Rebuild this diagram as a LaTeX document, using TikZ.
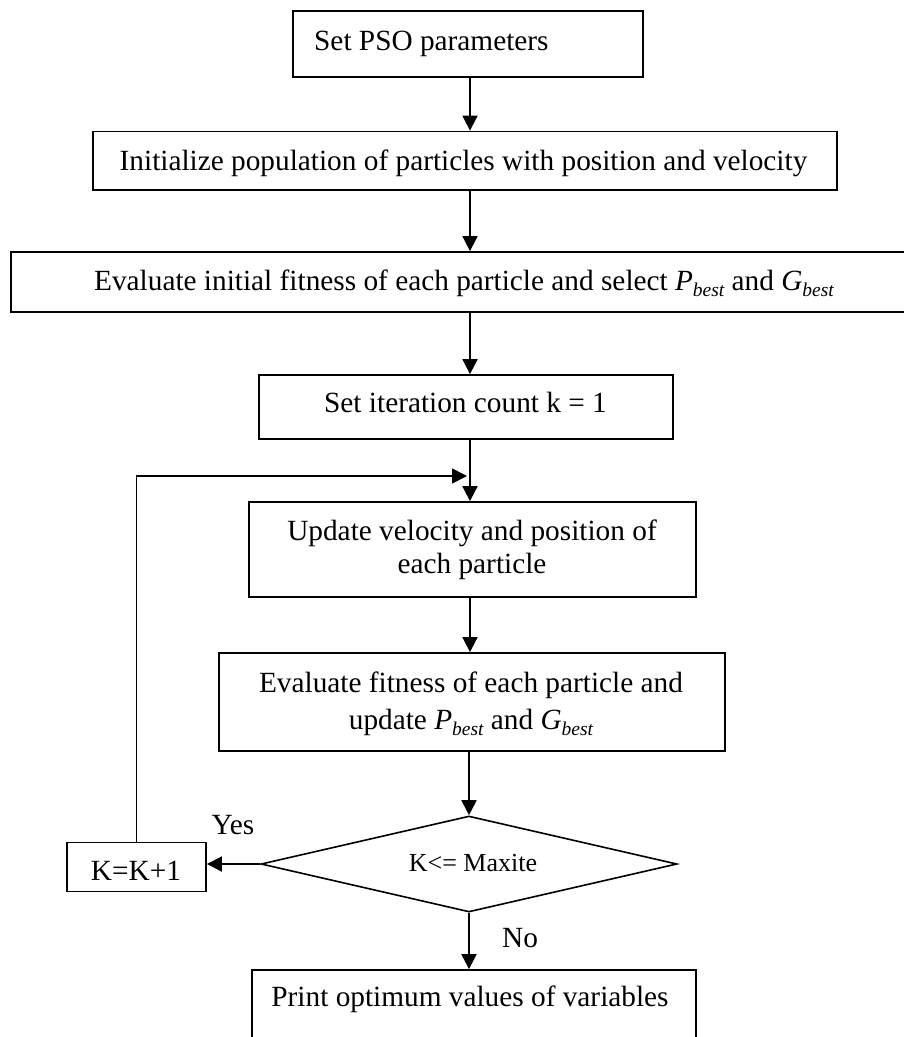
\documentclass[tikz,border=0pt]{standalone}
\usepackage{fontspec}
\setmainfont{Liberation Serif}
\usetikzlibrary{arrows.meta,shapes.geometric}
\newcommand{\sbest}{\raisebox{-0.22em}{\fontsize{19.5}{20}\selectfont\itshape best}}
\begin{document}
\begin{tikzpicture}[x=1pt,y=-1pt,
  box/.style={draw, line width=1.8pt, rectangle, inner sep=0pt},
  txt/.style={font=\fontsize{29.3}{33.7}\selectfont, inner sep=0pt, anchor=base},
  arr/.style={line width=1.8pt, -{Triangle[length=15pt,width=15pt]}},
]
\useasboundingbox (0,0) rectangle (904,1037);
\fill[white] (0,0) rectangle (904,1037);
\coordinate (ax) at (470,0);
% boxes
\node[box, minimum width=350pt, minimum height=66pt] (b1) at (468,44) {};
\node[box, minimum width=744pt, minimum height=58.5pt] (b2) at (465,160.75) {};
\node[box, minimum width=895pt, minimum height=60pt] (b3) at (458.5,282) {};
\node[box, minimum width=414pt, minimum height=64pt] (b4) at (466,407) {};
\node[box, minimum width=447pt, minimum height=95pt] (b5) at (472.5,549.5) {};
\node[box, minimum width=506pt, minimum height=98pt] (b6) at (472,702) {};
\node[draw, line width=1.6pt, diamond, inner sep=0pt, minimum width=416pt, minimum height=96pt] (dm) at (469,864) {};
\node[box, minimum width=139pt, minimum height=49pt] (kb) at (136.5,867) {};
\node[box, minimum width=444pt, minimum height=80pt] (pb) at (474,1010) {};
% texts
\node[txt, anchor=base west] (t1) at (314,50) {Set PSO parameters};
\node[txt] (t2) at (463.5,170) {Initialize population of particles with position and velocity};
\node[txt] (t3) at (464,290) {Evaluate initial fitness of each particle and select \textit{P}\sbest{} and \textit{G}\sbest};
\node[txt] (t4) at (465.5,412.7) {Set iteration count k = 1};
\node[txt] (t5a) at (472,540) {Update velocity and position of};
\node[txt] (t5b) at (472,573) {each particle};
\node[txt] (t6a) at (471,692) {Evaluate fitness of each particle and};
\node[txt] (t6b) at (471,729) {update \textit{P}\sbest{} and \textit{G}\sbest};
\node[txt, font=\fontsize{26}{30}\selectfont] (td) at (473,871.5) {K<= Maxite};
\node[txt] (tk) at (136,880) {K=K+1};
\node[txt] (tyes) at (233,834) {Yes};
\node[txt] (tno) at (520,947) {No};
\node[txt] (tp) at (470,1006.5) {Print optimum values of variables};
% connectors
\draw[arr] (b1.south -| ax) -- (b2.north -| ax);
\draw[arr] (b2.south -| ax) -- (b3.north -| ax);
\draw[arr] (b3.south -| ax) -- (b4.north -| ax);
\draw[arr] (b4.south -| ax) -- (b5.north -| ax);
\draw[arr] (b5.south -| ax) -- (b6.north -| ax);
\draw[arr] (b6.south -| dm.north) -- (dm.north);
\draw[arr] (dm.west) -- (dm.west -| kb.east);
\draw[arr] (dm.south) -- (dm.south |- pb.north);
\coordinate (lp) at (467,476);
\draw[arr] (kb.north) -- (kb.north |- lp) -- (lp);
\end{tikzpicture}
\end{document}
